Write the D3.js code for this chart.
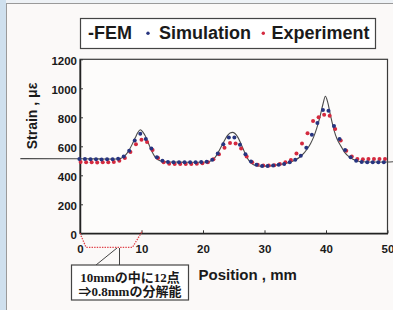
<!DOCTYPE html>
<html>
<head>
<meta charset="utf-8">
<script src="https://cdn.jsdelivr.net/npm/d3@7/dist/d3.min.js"></script>
<style>
  html, body { margin: 0; padding: 0; background: #f4f4f3; }
  svg { display: block; }
  text { font-family: "Liberation Sans", Arial, sans-serif; font-weight: bold; fill: #1a1a1a; }
</style>
</head>
<body>
<svg id="chart" width="393" height="310"></svg>
<script>
// ---- data ----
const xTicks = [0, 10, 20, 30, 40, 50];
const yTicks = [0, 200, 400, 600, 800, 1000, 1200];

// FEM curve (position mm, strain με)
const femPos = [-9.7, 0, 3, 5, 6, 6.5, 7, 7.5, 8, 8.5, 9, 9.4, 9.8, 10.2, 10.7, 11.3, 11.8, 12.3, 13, 14, 16, 18, 20,
  21, 21.5, 22, 22.5, 23, 23.5, 24, 24.4, 24.8, 25.2, 25.7, 26.2, 26.7, 27.2, 27.8, 28.5, 29.5, 31, 32, 33, 34, 35, 36,
  37, 37.5, 38, 38.5, 39, 39.5, 39.9, 40.3, 40.8, 41.3, 41.8, 42.5, 43, 44, 45, 46, 47, 50, 51.1];
const femVal = [515, 514, 513, 512, 512, 515, 525, 545, 575, 615, 660, 695, 714, 700, 665, 603, 555, 520, 500, 493, 491, 490, 490,
  495, 505, 525, 560, 600, 640, 675, 692, 696, 688, 660, 615, 565, 520, 485, 467, 462, 465, 472, 478, 488, 505, 535,
  585, 620, 665, 725, 800, 890, 945, 900, 800, 712, 650, 596, 560, 520, 500, 493, 492, 492, 494];

// measuring points
const pointPos = [0, 0.9, 1.8, 2.7, 3.6, 4.5, 5.4, 6.3, 7.2, 8.1, 9, 9.9, 10.8, 11.7, 12.6, 13.5, 14.4, 15.3, 16.2, 17.1,
  18, 18.9, 19.8, 20.7, 21.6, 22.5, 23.4, 24.3, 25.2, 26.1, 27, 27.9, 28.8, 29.7, 30.6, 31.5, 32.4, 33.3, 34.2, 35.1,
  36, 36.9, 37.8, 38.7, 39.6, 40.5, 41.4, 42.3, 43.2, 44.1, 45, 45.9, 46.8, 47.7, 48.6, 49.5];
const simulation = [512, 512, 510, 510, 509, 510, 510, 514, 530, 570, 640, 687, 650, 585, 525, 500, 492, 490, 490, 490,
  490, 490, 491, 494, 508, 550, 615, 660, 660, 610, 545, 495, 472, 465, 465, 468, 472, 478, 490, 508,
  535, 590, 680, 760, 850, 845, 740, 650, 575, 525, 500, 492, 490, 490, 490, 490];
const experiment = [492, 490, 490, 488, 490, 490, 492, 500, 520, 560, 615, 646, 630, 575, 520, 490, 480, 478, 478, 478,
  478, 480, 483, 490, 510, 545, 590, 623, 620, 585, 530, 490, 472, 468, 468, 470, 478, 490, 505, 550,
  620, 690, 775, 800, 818, 810, 720, 640, 570, 530, 512, 510, 512, 512, 512, 512];

const legendItems = ["-FEM", "Simulation", "Experiment"];
const calloutLines = ["10mmの中に12点", "⇒0.8mmの分解能"];

// ---- drawing ----
const svg = d3.select("#chart");
const C = { blue: "#27347f", red: "#d42a3f", fem: "#4a4a4a" };

// page background / panel
svg.append("rect").attr("x", 0).attr("y", 0).attr("width", 393).attr("height", 310).attr("fill", "#eef2f6");
svg.append("rect").attr("x", 0).attr("y", 0).attr("width", 6).attr("height", 310).attr("fill", "#cfe0ee");
svg.append("rect").attr("x", 6.5).attr("y", 3.5).attr("width", 400).attr("height", 320)
  .attr("fill", "#fbf9f8").attr("stroke", "#9a9a9a").attr("stroke-width", 1);

const x = d3.scaleLinear().domain([0, 50]).range([80, 387.5]);
const y = d3.scaleLinear().domain([0, 1200]).range([233.3, 59.3]);

// plot frame
svg.append("rect").attr("x", x(0)).attr("y", y(1200)).attr("width", x(50) - x(0)).attr("height", y(0) - y(1200))
  .attr("fill", "#fdfcfb").attr("stroke", "#3a3a3a").attr("stroke-width", 1.2);

// axes
const xAxis = svg.append("g").attr("transform", `translate(0,${y(0)})`)
  .call(d3.axisBottom(x).tickValues(xTicks).tickSizeInner(-3).tickSizeOuter(0).tickPadding(12).tickFormat(d3.format("d")));
xAxis.select(".domain").attr("stroke", "#222").attr("stroke-width", 1.5);
xAxis.selectAll("line").attr("stroke", "#333");
xAxis.selectAll("text").attr("font-size", 11.5).attr("fill", "#1a1a1a").style("font-family", "Liberation Sans").style("font-weight", "bold");

const yAxis = svg.append("g").attr("transform", `translate(${x(0)},0)`)
  .call(d3.axisLeft(y).tickValues(yTicks).tickSizeInner(-3).tickSizeOuter(0).tickPadding(3).tickFormat(d3.format("d")));
yAxis.select(".domain").attr("stroke", "#222").attr("stroke-width", 1.5);
yAxis.selectAll("line").attr("stroke", "#333");
yAxis.selectAll("text").attr("font-size", 11.5).attr("dy", "0.45em").attr("fill", "#1a1a1a").style("font-family", "Liberation Sans").style("font-weight", "bold");

// axis titles
svg.append("text").attr("transform", "translate(36.5,116) rotate(-90)").attr("text-anchor", "middle")
  .attr("font-size", 14).text("Strain , με");
svg.append("text").attr("x", 198.5).attr("y", 279.5).attr("font-size", 15).text("Position , mm");

// FEM line
const line = d3.line().x((d) => x(d[0])).y((d) => y(d[1])).curve(d3.curveMonotoneX);
svg.append("path").datum(femPos.map((p, i) => [p, femVal[i]]))
  .attr("d", line).attr("fill", "none").attr("stroke", C.fem).attr("stroke-width", 1.1);

// points
svg.append("g").selectAll("circle").data(pointPos.map((p, i) => [p, experiment[i]])).join("circle")
  .attr("cx", (d) => x(d[0]) + 0.6).attr("cy", (d) => y(d[1])).attr("r", 2).attr("fill", C.red);
svg.append("g").selectAll("circle").data(pointPos.map((p, i) => [p, simulation[i]])).join("circle")
  .attr("cx", (d) => x(d[0]) - 0.6).attr("cy", (d) => y(d[1])).attr("r", 2).attr("fill", C.blue);

// legend
svg.append("rect").attr("x", 80.5).attr("y", 18.5).attr("width", 295).attr("height", 30)
  .attr("fill", "#ffffff").attr("stroke", "#444").attr("stroke-width", 1.2);
const lg = svg.append("g").attr("font-size", 18);
lg.append("text").attr("x", 88).attr("y", 39.3).text(legendItems[0]);
lg.append("circle").attr("cx", 148).attr("cy", 33.3).attr("r", 1.7).attr("fill", C.blue);
lg.append("text").attr("x", 159).attr("y", 39.3).text(legendItems[1]);
lg.append("circle").attr("cx", 263.3).attr("cy", 33.3).attr("r", 1.7).attr("fill", C.red);
lg.append("text").attr("x", 271.5).attr("y", 39.3).text(legendItems[2]);

// callout: dotted bracket over 0-10 mm
const bx0 = x(0), bx1 = x(10);
svg.append("path")
  .attr("d", `M${bx0},${y(0)} L${bx0 + 6},${y(0) + 14} L${bx1 - 9},${y(0) + 14} L${bx1 + 1},${y(0) - 2.5}`)
  .attr("fill", "none").attr("stroke", "#e0424a").attr("stroke-width", 1.3).attr("stroke-dasharray", "1.4,1.2");
svg.append("path").attr("d", `M117,248 L96,265 M119.5,248 L119.5,265`)
  .attr("fill", "none").attr("stroke", "#444").attr("stroke-width", 1);
svg.append("rect").attr("x", 71.5).attr("y", 265).attr("width", 117).attr("height", 35)
  .attr("fill", "#ffffff").attr("stroke", "#444").attr("stroke-width", 1.2);
svg.append("g").selectAll("text").data(calloutLines).join("text")
  .attr("x", 130).attr("y", (d, i) => 281.5 + i * 14.5).attr("text-anchor", "middle")
  .attr("font-size", 13).style("font-family", "'Liberation Serif', 'Noto Sans CJK JP', serif")
  .text((d) => d);
</script>
</body>
</html>
